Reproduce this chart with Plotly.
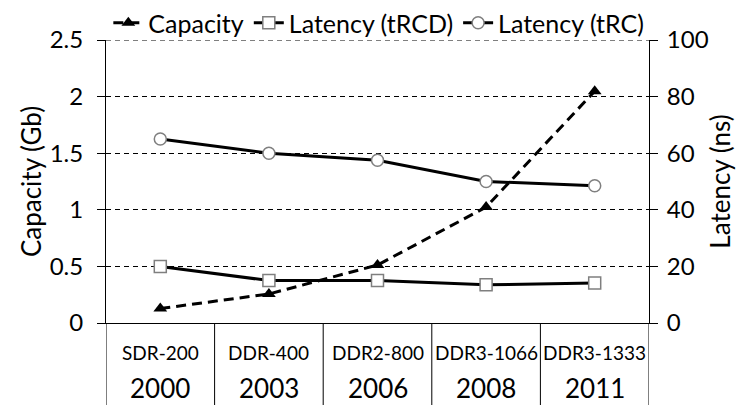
import plotly.graph_objects as go

# ---- data ----
parts = ["SDR-200", "DDR-400", "DDR2-800", "DDR3-1066", "DDR3-1333"]
years = ["2000", "2003", "2006", "2008", "2011"]
capacity_gb = [0.128, 0.256, 0.512, 1.024, 2.048]
trcd_ns = [20, 15, 15, 13.5, 14.1]
trc_ns = [65, 60, 57.5, 50, 48.5]

FONT = "Lato"
W, H = 737, 405
ML, MR, MT, MB = 106, 88, 40, 82
plot_h = H - MT - MB

fig = go.Figure()
fig.add_trace(go.Scatter(
    x=parts, y=capacity_gb, name="Capacity", mode="lines+markers",
    line=dict(color="black", width=3, dash="10px,6px"),
    marker=dict(symbol="triangle-up", size=12, color="black"),
    yaxis="y"))
fig.add_trace(go.Scatter(
    x=parts, y=trcd_ns, name="Latency (tRCD)", mode="lines+markers",
    line=dict(color="black", width=3),
    marker=dict(symbol="square", size=12, color="white",
                line=dict(color="#7f7f7f", width=1.5)),
    yaxis="y2"))
fig.add_trace(go.Scatter(
    x=parts, y=trc_ns, name="Latency (tRC)", mode="lines+markers",
    line=dict(color="black", width=3),
    marker=dict(symbol="circle", size=12, color="white",
                line=dict(color="#7f7f7f", width=1.5)),
    yaxis="y2"))

# bottom table: vertical separators and two label rows
shapes = []
for i in range(len(parts) + 1):
    shapes.append(dict(type="line", xref="x", yref="paper",
                       x0=i - 0.5, x1=i - 0.5, y0=0, y1=-MB / plot_h,
                       line=dict(color="black", width=1)))
# top dashed gridline (at the range end, which plotly skips)
shapes.append(dict(type="line", xref="paper", yref="y", x0=0, x1=1,
                   y0=2.5, y1=2.5, layer="below",
                   line=dict(color="black", width=1, dash="5px,4px")))
annotations = []
for p, yr in zip(parts, years):
    annotations.append(dict(x=p, xref="x", yref="paper", y=-29 / plot_h,
                            text=p, showarrow=False, yanchor="middle",
                            font=dict(family=FONT, size=19, color="black")))
    annotations.append(dict(x=p, xref="x", yref="paper", y=-65 / plot_h,
                            text=yr, showarrow=False, yanchor="middle",
                            font=dict(family=FONT, size=26, color="black")))

fig.update_layout(
    width=W, height=H,
    margin=dict(l=ML, r=MR, t=MT, b=MB, autoexpand=False),
    paper_bgcolor="white", plot_bgcolor="white",
    font=dict(family=FONT, color="black"),
    shapes=shapes, annotations=annotations,
    showlegend=True,
    legend=dict(orientation="h", xref="container", yref="container",
                x=0.147, y=1.0, xanchor="left", yanchor="top",
                font=dict(family=FONT, size=25, color="black"),
                bgcolor="rgba(0,0,0,0)", itemwidth=30, tracegroupgap=0),
    xaxis=dict(type="category", range=[-0.5, 4.5], showticklabels=False,
               showgrid=False, zeroline=False, showline=True,
               linecolor="black", linewidth=1, ticks=""),
    yaxis=dict(range=[0, 2.5], dtick=0.5, tickformat="~g",
               showline=True, linecolor="black", linewidth=1,
               ticks="outside", ticklen=8, tickcolor="black", tickwidth=1,
               showgrid=True, gridcolor="black", gridwidth=1,
               griddash="5px,4px", zeroline=False,
               tickfont=dict(family=FONT, size=24, color="black"),
               ticklabelstandoff=9,
               title=dict(text="Capacity (Gb)", standoff=0,
                          font=dict(family=FONT, size=26, color="black"))),
    yaxis2=dict(range=[0, 100], dtick=20, overlaying="y", side="right",
                showline=True, linecolor="black", linewidth=1,
                ticks="outside", ticklen=8, tickcolor="black", tickwidth=1,
                showgrid=False, zeroline=False,
                tickfont=dict(family=FONT, size=24, color="black"),
                ticklabelstandoff=4,
                title=dict(text="Latency (ns)", standoff=4,
                           font=dict(family=FONT, size=26, color="black"))),
)

fig.write_html("out.html", config={"displayModeBar": False},
               post_script="document.body.style.margin='0px';")
